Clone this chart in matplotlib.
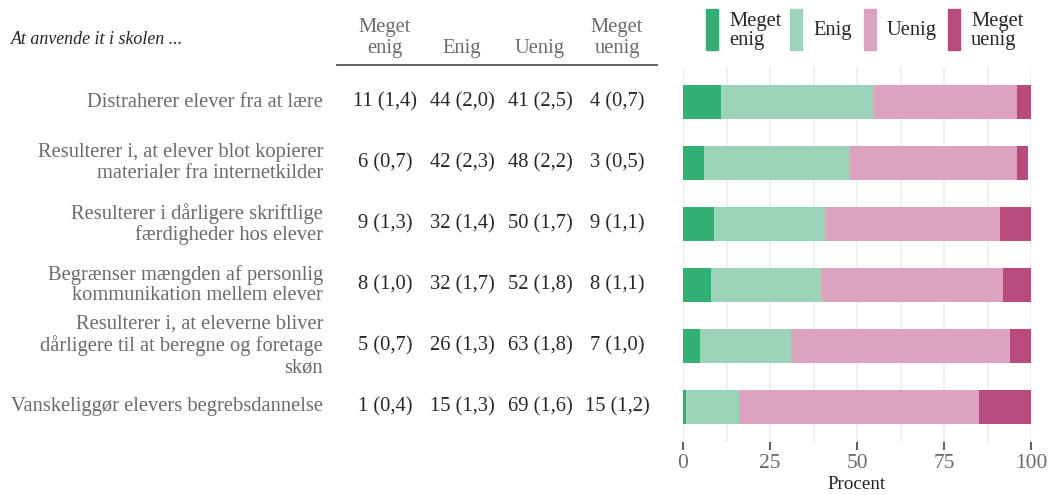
import numpy as np
import matplotlib
matplotlib.use("Agg")
import matplotlib.pyplot as plt
import matplotlib.transforms as mtransforms
from matplotlib.patches import Rectangle
from matplotlib.lines import Line2D

plt.rcParams['font.family'] = ['Liberation Serif', 'DejaVu Serif']

# data
title = "At anvende it i skolen ..."
statements = [
    "Distraherer elever fra at lære",
    "Resulterer i, at elever blot kopierer\nmaterialer fra internetkilder",
    "Resulterer i dårligere skriftlige\nfærdigheder hos elever",
    "Begrænser mængden af personlig\nkommunikation mellem elever",
    "Resulterer i, at eleverne bliver\ndårligere til at beregne og foretage\nskøn",
    "Vanskeliggør elevers begrebsdannelse",
]
categories = ["Meget\nenig", "Enig", "Uenig", "Meget\nuenig"]
meget_enig = [11, 6, 9, 8, 5, 1]
enig = [44, 42, 32, 32, 26, 15]
uenig = [41, 48, 50, 52, 63, 69]
meget_uenig = [4, 3, 9, 8, 7, 15]
se_meget_enig = ["1,4", "0,7", "1,3", "1,0", "0,7", "0,4"]
se_enig = ["2,0", "2,3", "1,4", "1,7", "1,3", "1,3"]
se_uenig = ["2,5", "2,2", "1,7", "1,8", "1,8", "1,6"]
se_meget_uenig = ["0,7", "0,5", "1,1", "1,1", "1,0", "1,2"]

colors = ["#32b074", "#9cd3b9", "#dba3c0", "#b94a7e"]
fs = 14.8

W, H = 1048, 495
fig = plt.figure(figsize=(W / 100, H / 100), dpi=100)

ax = fig.add_axes([683 / W, (H - 442) / H, (1031 - 683) / W, (442 - 67) / H])

values = [meget_enig, enig, uenig, meget_uenig]
ses = [se_meget_enig, se_enig, se_uenig, se_meget_uenig]
y = np.arange(len(statements))
left = np.zeros(len(statements))
for vals, c in zip(values, colors):
    ax.barh(y, vals, left=left, height=0.56, color=c, zorder=2)
    left += np.array(vals)

ax.set_ylim(len(statements) - 1 + 0.58, -0.58)
ax.set_xlim(0, 100)
ax.set_xticks([0, 25, 50, 75, 100])
ax.set_xticks(np.arange(0, 101, 12.5), minor=True)
ax.set_yticks([])
ax.grid(axis='x', which='both', color='#ebebeb', lw=1.1, zorder=0)
for s in ax.spines.values():
    s.set_visible(False)
ax.tick_params(axis='x', which='major', length=6, width=1.2, color='#444444',
               labelsize=15.5, labelcolor='#6b6b6b', pad=3)
ax.tick_params(axis='x', which='minor', length=0)
ax.set_xlabel("Procent", fontsize=13.7, color='#222222', labelpad=2)

# table
tr = mtransforms.blended_transform_factory(fig.transFigure, ax.transData)
for i, lab in enumerate(statements):
    ax.text(323 / W, i, lab, transform=tr, ha='right', va='center',
            fontsize=fs, color='#6b6b6b', linespacing=1.12)

col_x = [385, 462, 540, 617]
for j, (vals, se) in enumerate(zip(values, ses)):
    for i in range(len(statements)):
        ax.text(col_x[j] / W, i, f"{vals[i]} ({se[i]})", transform=tr,
                ha='center', va='center', fontsize=fs, color='#262626')
    fig.text(col_x[j] / W, (H - 53) / H, categories[j], ha='center', va='baseline',
             fontsize=fs, color='#6b6b6b', linespacing=1.12)

fig.text(11 / W, (H - 40) / H, title, ha='left', va='center', fontsize=12.9,
         style='italic', color='#262626')
fig.add_artist(Line2D([337 / W, 657 / W], [(H - 65) / H] * 2, color='#555555', lw=1.3,
                      transform=fig.transFigure))

# legend
leg_x = [706, 790, 864, 948]
for c, cat, lx in zip(colors, categories, leg_x):
    fig.add_artist(Rectangle((lx / W, (H - 50) / H), 12 / W, 41 / H,
                             color=c, transform=fig.transFigure))
    fig.text((lx + 23) / W, (H - 31) / H, cat, ha='left', va='center',
             fontsize=fs, color='#262626', linespacing=1.0)

fig.savefig("out.png", dpi=100)
